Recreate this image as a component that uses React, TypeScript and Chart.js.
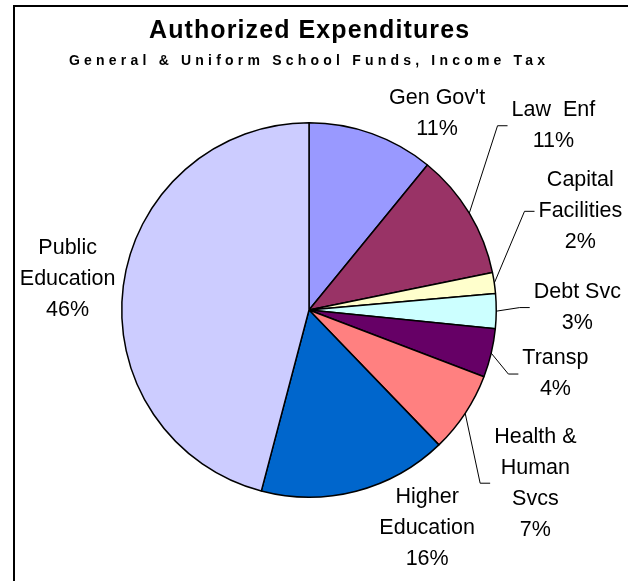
import React, { useEffect, useRef } from "react";
import { Chart, registerables } from "chart.js";

Chart.register(...registerables);

const categories = [
  "Gen Gov't",
  "Law  Enf",
  "Capital Facilities",
  "Debt Svc",
  "Transp",
  "Health & Human Svcs",
  "Higher Education",
  "Public Education",
];
const labelLines = [
  ["Gen Gov't"],
  ["Law  Enf"],
  ["Capital", "Facilities"],
  ["Debt Svc"],
  ["Transp"],
  ["Health &", "Human", "Svcs"],
  ["Higher", "Education"],
  ["Public", "Education"],
];
const values = [10.9, 10.9, 1.8, 3.0, 4.2, 7.0, 16.3, 45.9];
const colors = ["#9999FF", "#993366", "#FFFFCC", "#CCFFFF", "#660066", "#FF8080", "#0066CC", "#CCCCFF"];
const titleText = "Authorized Expenditures";
const subtitleText = "General & Uniform School Funds, Income Tax";
// label block centres, in units of the pie radius measured from the pie centre
const labelOffsets = [
  [0.684, -1.048],
  [1.305, -0.984],
  [1.449, -0.527],
  [1.433, -0.013],
  [1.316, 0.342],
  [1.209, 0.925],
  [0.631, 1.166],
  [-1.289, -0.166],
];
const hasLeader = [false, true, true, true, true, true, false, false];

const FONT = '"Liberation Sans", Arial, sans-serif';

const decorPlugin = {
  id: "decor",
  afterDraw(chart: any) {
    const ctx = chart.ctx as CanvasRenderingContext2D;
    ctx.save();
    // frame
    ctx.strokeStyle = "#000";
    ctx.lineWidth = 2;
    ctx.beginPath();
    ctx.moveTo(14, 600);
    ctx.lineTo(14, 6);
    ctx.lineTo(640, 6);
    ctx.stroke();

    // titles
    ctx.fillStyle = "#000";
    ctx.textAlign = "left";
    ctx.textBaseline = "alphabetic";
    ctx.font = `bold 25px ${FONT}`;
    (ctx as any).letterSpacing = "1.1px";
    ctx.fillText(titleText, 149, 37.5);
    ctx.font = `bold 14px ${FONT}`;
    (ctx as any).letterSpacing = "4.2px";
    ctx.fillText(subtitleText, 69, 64.5);
    (ctx as any).letterSpacing = "0px";

    // labels
    const meta = chart.getDatasetMeta(0);
    ctx.font = `21.5px ${FONT}`;
    ctx.textAlign = "center";
    ctx.textBaseline = "middle";
    const lh = 31;
    meta.data.forEach((arc: any, i: number) => {
      const p = arc.getProps(["x", "y", "startAngle", "endAngle", "outerRadius"], true);
      const lines = [...labelLines[i], Math.round(values[i]) + "%"];
      const cx = p.x + labelOffsets[i][0] * p.outerRadius;
      const cy = p.y + labelOffsets[i][1] * p.outerRadius;
      const n = lines.length;
      let w = 0;
      lines.forEach((t, k) => {
        ctx.fillText(t, cx, cy + (k - (n - 1) / 2) * lh);
        w = Math.max(w, ctx.measureText(t).width);
      });
      if (hasLeader[i]) {
        const mid = (p.startAngle + p.endAngle) / 2;
        const sx = p.x + Math.cos(mid) * p.outerRadius;
        const sy = p.y + Math.sin(mid) * p.outerRadius;
        const endX = cx - w / 2 - 4;
        const elbowX = endX - 10;
        ctx.lineWidth = 1;
        ctx.strokeStyle = "#000";
        ctx.beginPath();
        ctx.moveTo(sx, sy);
        ctx.lineTo(elbowX, cy);
        ctx.lineTo(endX, cy);
        ctx.stroke();
      }
    });
    ctx.restore();
  },
};

export default function App() {
  const ref = useRef<HTMLCanvasElement | null>(null);
  useEffect(() => {
    if (!ref.current) return;
    const chart = new Chart(ref.current, {
      type: "pie",
      data: {
        labels: categories,
        datasets: [
          {
            data: values,
            backgroundColor: colors,
            borderColor: "#000",
            borderWidth: 1.5,
          },
        ],
      },
      options: {
        animation: false,
        responsive: false,
        devicePixelRatio: 1,
        layout: { padding: { left: 121, right: 131, top: 122, bottom: 83 } },
        plugins: {
          legend: { display: false },
          tooltip: { enabled: false },
          title: { display: false },
        },
      },
      plugins: [decorPlugin],
    });
    return () => chart.destroy();
  }, []);
  return (
    <div style={{ position: "absolute", left: 0, top: 0, width: 628, height: 581, background: "#fff" }}>
      <canvas ref={ref} width={628} height={581} style={{ display: "block" }} />
    </div>
  );
}
